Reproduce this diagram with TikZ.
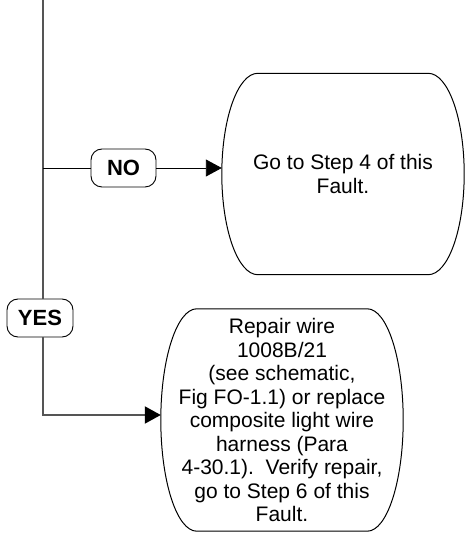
\documentclass[tikz,border=0pt]{standalone}
\usepackage{fontspec}
\setmainfont{Liberation Sans}
\usepackage{tikz}
\usetikzlibrary{arrows.meta,positioning,calc}
\definecolor{cInk}{HTML}{000000}
\definecolor{cWire}{HTML}{555555}
\tikzset{
  ans/.style={draw=cInk,rounded corners=11pt,line width=0.9pt,minimum width=65pt,minimum height=38pt,inner sep=0pt,font=\fontsize{22}{24}\selectfont\bfseries},
  term/.style={minimum width=242pt,minimum height=#1,inner sep=0pt,align=center,font=\fontsize{21}{23.5}\selectfont},
  arr/.style={-{Triangle[length=16pt,width=17pt]},line width=0.9pt,color=cInk},
  warr/.style={-{Triangle[length=16pt,width=17pt,color=cInk]},line width=2pt,color=cWire},
  trunk/.style={line width=2pt,color=cWire},
  outl/.style={draw=cInk,line width=1pt},
}
\newcommand{\termoutline}[2]{%
  \draw[outl] let \p1=($(#1.north)-(#1.center)$) in
    ($(#1.north west)+(#2,0)$) -- ($(#1.north east)+(-#2,0)$)
    arc[start angle=90,end angle=-90,x radius=#2pt,y radius=\y1]
    -- ($(#1.south west)+(#2,0)$)
    arc[start angle=270,end angle=90,x radius=#2pt,y radius=\y1] -- cycle;}

\begin{document}
\begin{tikzpicture}[x=1pt,y=1pt]
    \useasboundingbox (0,0) rectangle (464,533);
    \node[term=201pt] (step4) at (343,359) {Go to Step 4 of this\\Fault.};
    \node[term=222pt] (repair) at (282,113) {Repair wire\\1008B/21\\(see schematic,\\Fig FO-1.1) or replace\\composite light wire\\harness (Para\\4-30.1).\ \ Verify repair,\\go to Step 6 of this\\Fault.};
    \termoutline{step4}{36}
    \termoutline{repair}{36}
    \node[ans] (no) at (123.5,365) {NO};
    \node[ans,minimum width=66pt] (yes) at (40,215) {YES};
    \coordinate (top) at (43,533);
    \coordinate (elbow) at (43,118);
    \draw[trunk] (top) -- (top |- yes.north);
    \draw[line width=0.9pt,cInk] (top |- no.west) -- (no.west);
    \draw[arr] (no.east) -- (step4.west |- no.east);
    \draw[warr] (top |- yes.south) -- (elbow) -- (repair.west |- elbow);
  \end{tikzpicture}
\end{document}
